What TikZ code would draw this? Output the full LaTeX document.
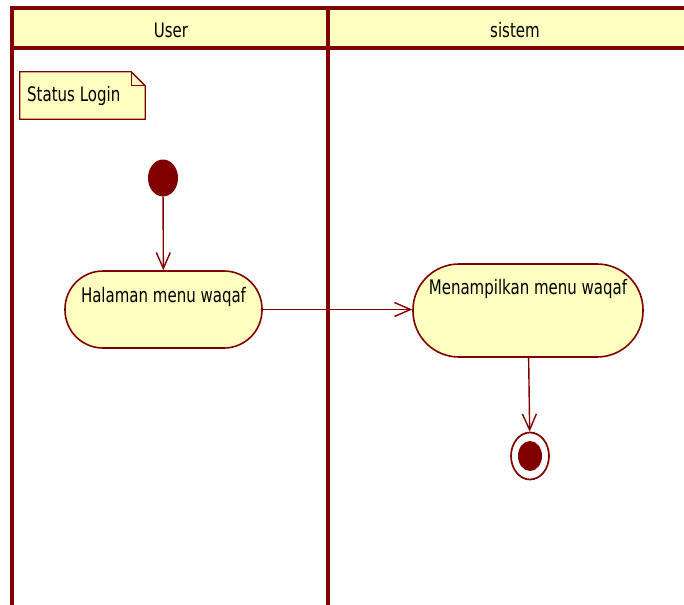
\documentclass[tikz,border=0pt]{standalone}
\usepackage{fontspec}
\setmainfont{DejaVu Sans}[FakeStretch=0.75]
\usetikzlibrary{arrows.meta,shapes.geometric}
\definecolor{umlred}{HTML}{800000}
\definecolor{umlfill}{HTML}{FFFFC0}
\newcommand{\umlfont}{\fontsize{20}{22}\selectfont}
\tikzset{
  lane/.style={draw=umlred, line width=3.5pt},
  lanehead/.style={font=\umlfont, text=black},
  notebox/.style={inner sep=0pt, minimum width=125pt, minimum height=47pt},
  noteline/.style={draw=umlred, fill=umlfill, line width=1.3pt},
  action/.style={draw=umlred, fill=umlfill, line width=1.6pt, inner sep=0pt,
    font=\umlfont, text height=31pt},
  startnode/.style={ellipse, fill=umlred, minimum width=30pt, minimum height=37pt, inner sep=0pt},
  endouter/.style={ellipse, draw=umlred, fill=white, line width=1.7pt, minimum width=38pt, minimum height=47pt, inner sep=0pt},
  endinner/.style={ellipse, fill=umlred, minimum width=24pt, minimum height=30pt, inner sep=0pt},
  flow/.style={draw=umlred, line width=1.4pt, -{Straight Barb[length=16pt,width=14pt,line width=1.4pt]}},
}
\begin{document}
\begin{tikzpicture}[x=1pt,y=-1pt]
\useasboundingbox (0,0) rectangle (684,604);
% swimlane frame and header band
\fill[umlfill] (12,8) rectangle (690,48);
\draw[lane] (12,610) -- (12,8) -- (690,8);
\draw[lane] (12,48) -- (690,48);
\draw[lane] (328,8) -- (328,610);
\node[lanehead] (hUser) at (171,30) {User};
\node[lanehead] (hSistem) at (515,30) {sistem};
% note with folded corner
\node[notebox] (note) at (82.5,95.5) {};
\path[noteline] (note.north west) -- ([xshift=-14pt]note.north east) -- ([yshift=-14pt]note.north east)
  -- (note.south east) -- (note.south west) -- cycle;
\draw[umlred, line width=1.3pt] ([xshift=-14pt]note.north east) -- ([xshift=-14pt,yshift=-14pt]note.north east)
  -- ([yshift=-14pt]note.north east);
\node[font=\umlfont, anchor=west, inner sep=0pt] (noteText) at (27,96) {Status Login};
% activity nodes
\node[startnode] (start) at (163,178) {};
\node[action, minimum width=197pt, minimum height=77pt, rounded corners=38pt, text depth=46pt]
  (halaman) at (163.5,309.5) {Halaman menu waqaf};
\node[action, minimum width=230pt, minimum height=93pt, rounded corners=46pt, text height=30pt, text depth=63pt]
  (menampilkan) at (528,310.5) {Menampilkan menu waqaf};
\node[endouter] (stop) at (530,456) {};
\node[endinner] (stopDot) at (stop.center) {};
% control flows
\draw[flow] (start) -- (halaman);
\draw[flow] (halaman.east) -- (menampilkan.west |- halaman.east);
\draw[flow] (menampilkan) -- (stop);
\end{tikzpicture}
\end{document}
